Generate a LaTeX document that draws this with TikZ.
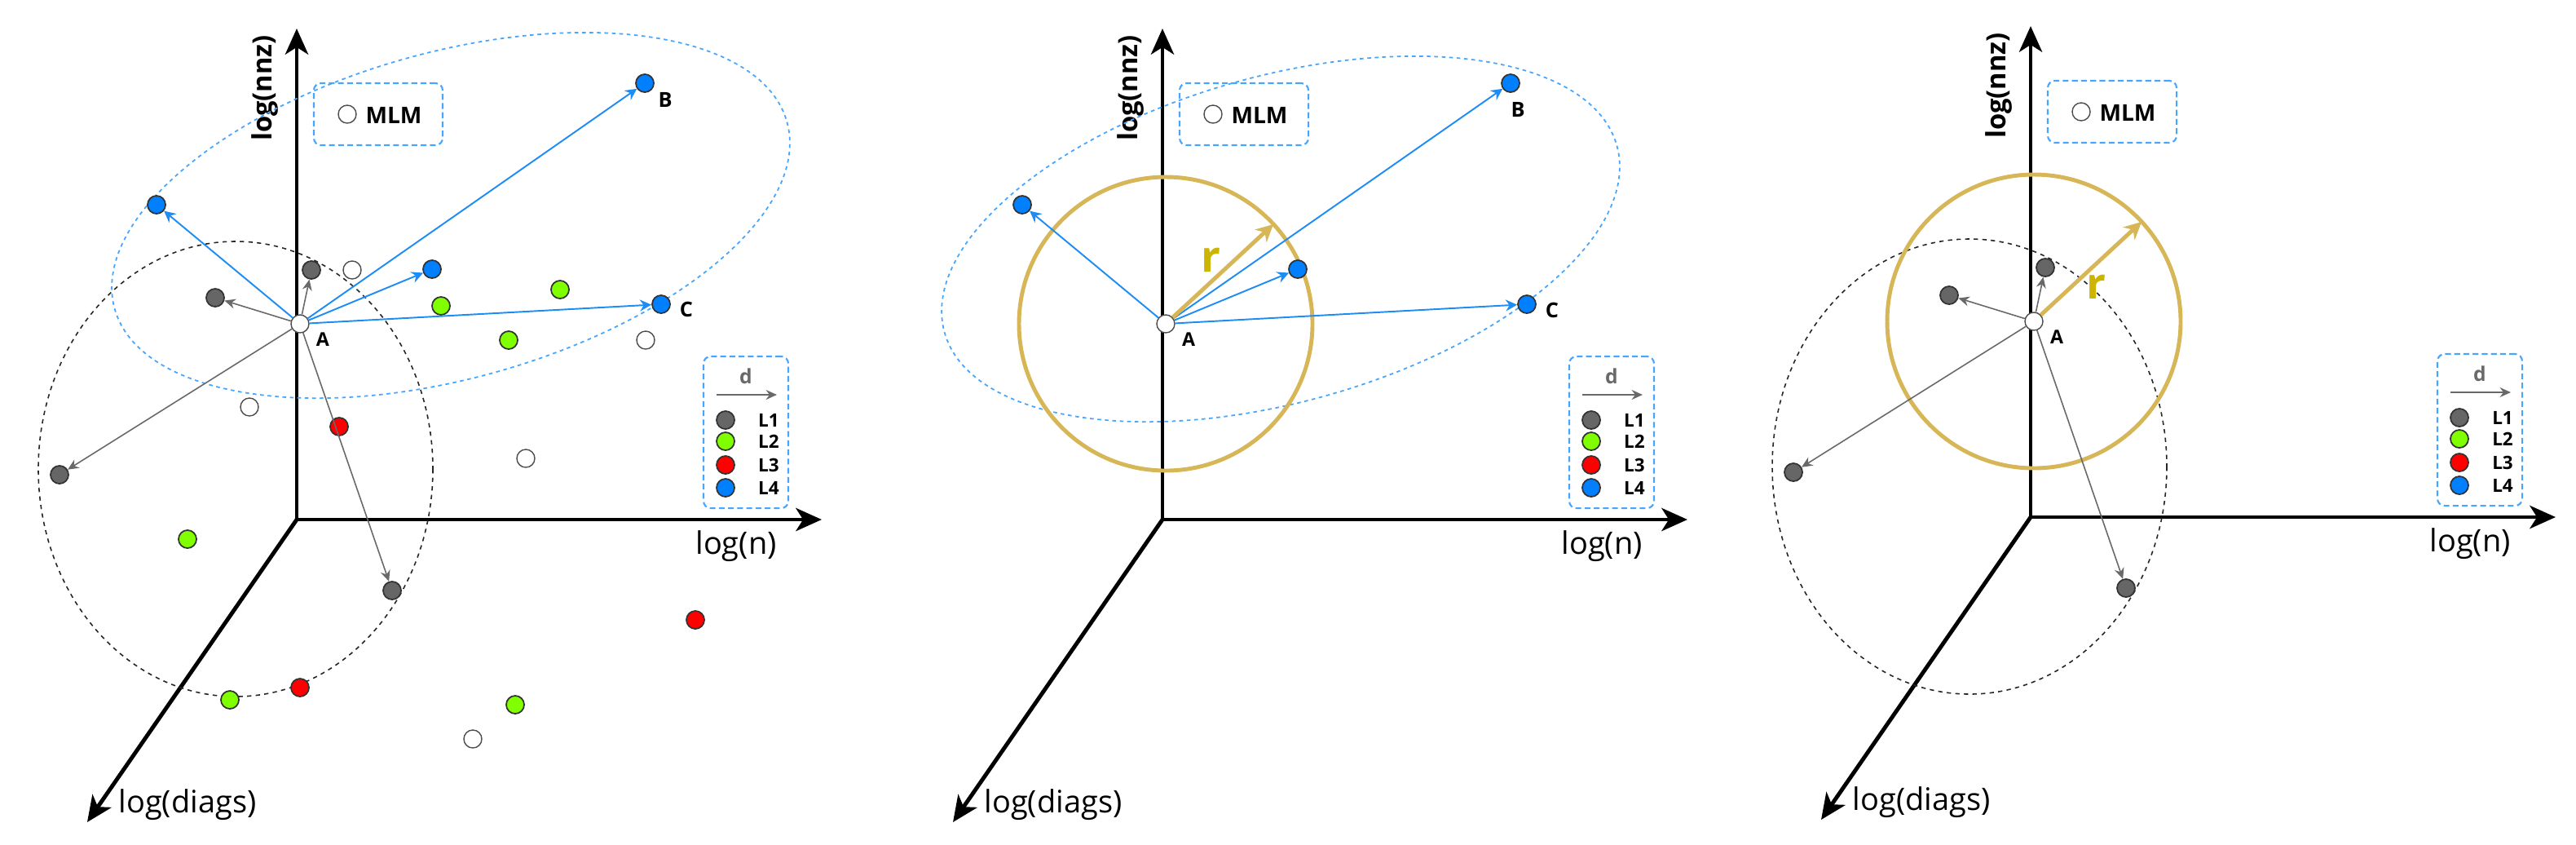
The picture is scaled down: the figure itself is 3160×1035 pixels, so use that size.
\documentclass[tikz,border=0pt]{standalone}
\usepackage{fontspec}
\setmainfont{Open Sans}
\usetikzlibrary{arrows.meta,positioning}

% 色
\definecolor{lvone}{HTML}{666666}
\definecolor{lvtwo}{HTML}{80FF00}
\definecolor{lvthree}{HTML}{FF0000}
\definecolor{lvfour}{HTML}{007FFF}
\definecolor{arrblue}{RGB}{30,140,245}
\definecolor{dashblue}{RGB}{70,165,255}
\definecolor{ringgold}{HTML}{D6B656}
\definecolor{rtext}{RGB}{205,180,0}
\definecolor{arrgray}{RGB}{105,105,105}

\tikzset{
  axisline/.style={black,line width=1.4pt,-{Stealth[length=9pt,width=8pt,inset=2.5pt]}},
  axlabel/.style={font=\fontsize{10.8}{13}\selectfont,inner sep=0pt},
  nnzlabel/.style={font=\bfseries\fontsize{9.3}{11}\selectfont,rotate=90,inner sep=0pt},
  ptlabel/.style={font=\bfseries\fontsize{7.2}{9}\selectfont,inner sep=0pt},
  leglabel/.style={font=\bfseries\fontsize{6.4}{8}\selectfont,inner sep=0pt},
  dashbox/.style={draw=dashblue,line width=0.6pt,dash pattern=on 2pt off 1.2pt,
    rounded corners=2.5pt,inner sep=0pt},
  dotbase/.style={circle,draw=black!80,line width=0.5pt,minimum size=0.22cm,inner sep=0pt},
  dotL1/.style={dotbase,fill=lvone},
  dotL2/.style={dotbase,fill=lvtwo},
  dotL3/.style={dotbase,fill=lvthree},
  dotL4/.style={dotbase,fill=lvfour},
  dotMLM/.style={dotbase,fill=white,draw=black!70,line width=0.4pt},
  grayarr/.style={arrgray,line width=0.45pt,-{Stealth[length=3.8pt,width=3.4pt]}},
  bluearr/.style={arrblue,line width=0.55pt,-{Stealth[length=4pt,width=4pt]}},
  goldarr/.style={ringgold,line width=1.4pt,-{Stealth[length=6pt,width=6pt]}},
  goldring/.style={ringgold,line width=1.4pt},
  blackdash/.style={black!85,line width=0.45pt,dash pattern=on 1.5pt off 1.5pt},
  bluedash/.style={dashblue,line width=0.5pt,dash pattern=on 1.3pt off 1.3pt}
}

\begin{document}
\begin{tikzpicture}[x=0.01cm,y=-0.01cm]

    \useasboundingbox (0,0) rectangle (3160,1035);

    % 三つのパネルに共通: 座標軸, MLM, 凡例, 点A
    \foreach \p/\ox/\oy in {1/364/637,2/1426/637,3/2491/634} {
      \begin{scope}[shift={(\ox,\oy)}]
        \coordinate (O\p) at (0,0);
        \draw[axisline] (O\p) -- (0,-602);
        \draw[axisline] (O\p) -- (644,0);
        \draw[axisline] (O\p) -- (-257,371);
        \node[nnzlabel] (nnz\p) at (-39,-529) {log(nnz)};
        \node[axlabel] (logn\p) at (539,33) {log(n)};
        \node[axlabel] (diags\p) at (-134,350) {log(diags)};

        % MLM
        \node[dashbox,minimum width=1.58cm,minimum height=0.76cm] (mlmbox\p) at (100,-497) {};
        \node[dotMLM] (mlmdot\p) at (62,-497) {};
        \node[ptlabel,font=\bfseries\fontsize{8}{10}\selectfont] (mlmtxt\p) at (119,-496) {MLM};

        % 凡例
        \node[dashbox,minimum width=1.04cm,minimum height=1.86cm] (leg\p) at (551,-107) {};
        \node[leglabel,text=arrgray,font=\bfseries\fontsize{7}{8}\selectfont] (legd\p) at (551,-176) {d};
        \coordinate (legs\p) at (515,-153);
        \coordinate (lege\p) at (589,-153);
        \draw[grayarr,line width=0.6pt] (legs\p) -- (lege\p);
        \foreach \c/\y in {1/-122,2/-96,3/-67,4/-39} {
          \node[dotL\c] (legdot\c\p) at (526,\y) {};
          \node[leglabel] (legtxt\c\p) at (579,\y) {L\c};
        }

        % 点A
        \node[dotMLM] (A\p) at (4,-240) {};
        \node[ptlabel,font=\bfseries\fontsize{6.6}{8}\selectfont] (Atxt\p) at (32,-221) {A};
      \end{scope}
    }

    % パネル1
    \begin{scope}[shift={(364,637)}]
      \draw[blackdash] (-75,-62) ellipse [x radius=242,y radius=279];
      \draw[bluedash,rotate around={15.5:(189,-373)}] (189,-373) ellipse [x radius=428,y radius=200];

      \foreach \x/\y [count=\i] in {177/-262,323/-282,260/-220,-134/24,-82/221,268/227}
        \node[dotL2] (grn\i) at (\x,\y) {};
      \foreach \x/\y [count=\i] in {52/-114,489/123,4/206}
        \node[dotL3] (red\i) at (\x,\y) {};
      \foreach \x/\y [count=\i] in {68/-306,428/-220,-58/-138,281/-75,216/269}
        \node[dotMLM] (wht\i) at (\x,\y) {};

      \node[dotL1] (gt1) at (18,-306) {};
      \node[dotL1] (gl1) at (-100,-272) {};
      \node[dotL1] (gf1) at (-291,-55) {};
      \node[dotL1] (gd1) at (117,87) {};
      \node[dotL4] (bl1) at (-172,-386) {};
      \node[dotL4] (B1) at (427,-535) {};
      \node[dotL4] (bm1) at (166,-307) {};
      \node[dotL4] (C1) at (447,-264) {};
      \node[ptlabel] (Btxt1) at (452,-515) {B};
      \node[ptlabel] (Ctxt1) at (478,-258) {C};
    \end{scope}
    \foreach \t in {gt1,gl1,gf1,gd1} \draw[grayarr] (A1) -- (\t);
    \foreach \t in {bl1,B1,bm1,C1} \draw[bluearr] (A1) -- (\t);

    % パネル2
    \begin{scope}[shift={(1426,637)}]
      \draw[bluedash,rotate around={15.5:(145,-344)}] (145,-344) ellipse [x radius=428,y radius=200];
      \draw[goldring] (4,-240) circle (180);
      \coordinate (rtip2) at (136,-362);
      \node[dotL4] (bl2) at (-172,-386) {};
      \node[dotL4] (B2) at (427,-535) {};
      \node[dotL4] (bm2) at (166,-307) {};
      \node[dotL4] (C2) at (447,-264) {};
      \node[ptlabel] (Btxt2) at (436,-503) {B};
      \node[ptlabel] (Ctxt2) at (478,-257) {C};
      \node[text=rtext,font=\bfseries\fontsize{15}{17}\selectfont,inner sep=0pt] (r2) at (59,-318) {r};
    \end{scope}
    \foreach \t in {bl2,B2,bm2,C2} \draw[bluearr] (A2) -- (\t);
    \draw[goldarr] (A2) -- (rtip2);

    % パネル3
    \begin{scope}[shift={(2491,634)}]
      \draw[blackdash] (-75,-62) ellipse [x radius=242,y radius=279];
      \draw[goldring] (4,-240) circle (180);
      \coordinate (rtip3) at (136,-362);
      \node[dotL1] (gt3) at (18,-306) {};
      \node[dotL1] (gl3) at (-100,-272) {};
      \node[dotL1] (gf3) at (-291,-55) {};
      \node[dotL1] (gd3) at (117,87) {};
      \node[text=rtext,font=\bfseries\fontsize{15}{17}\selectfont,inner sep=0pt] (r3) at (80,-282) {r};
    \end{scope}
    \foreach \t in {gt3,gl3,gf3,gd3} \draw[grayarr] (A3) -- (\t);
    \draw[goldarr] (A3) -- (rtip3);

\end{tikzpicture}
\end{document}
